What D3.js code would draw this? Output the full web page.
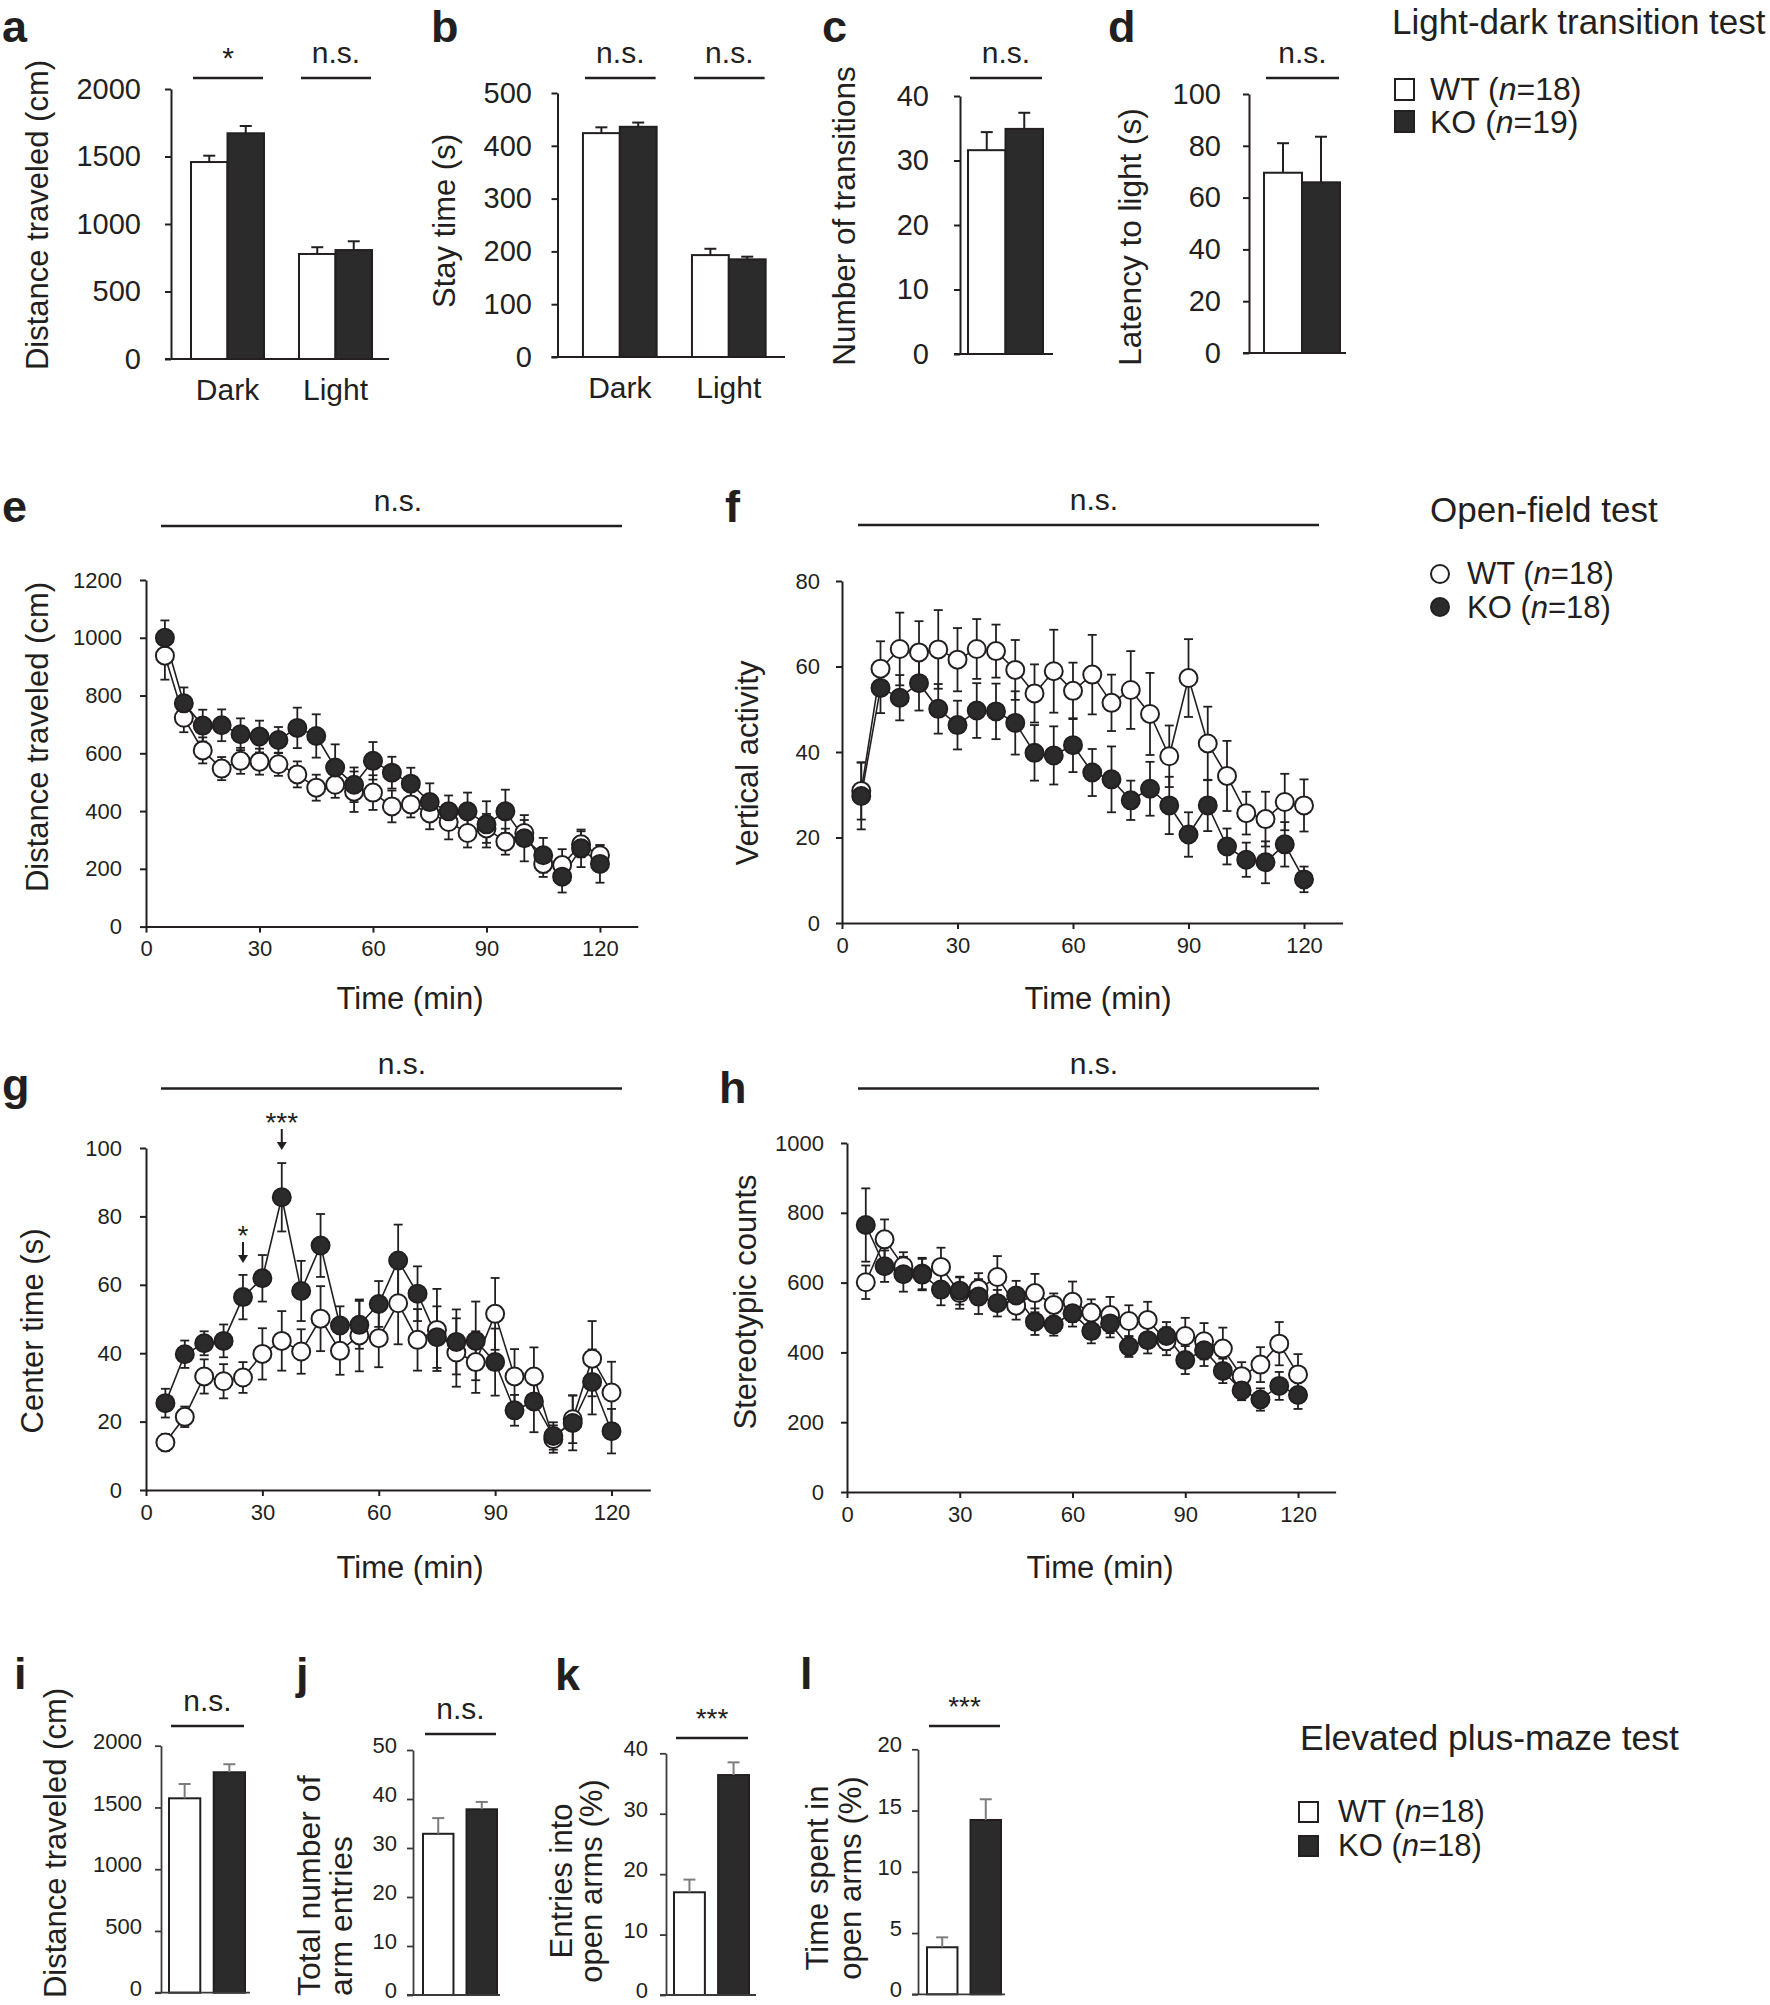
<!DOCTYPE html>
<html><head><meta charset="utf-8">
<script src="https://cdnjs.cloudflare.com/ajax/libs/d3/7.8.5/d3.min.js"></script>
<style>
body{margin:0;background:#fff;}
svg{display:block;}
</style></head><body>
<svg id="fig" width="1770" height="2005"></svg>
<script>
// ================= DATA =================
const groups = ["WT", "KO"];
const times = [5,10,15,20,25,30,35,40,45,50,55,60,65,70,75,80,85,90,95,100,105,110,115,120];
const timeTicks = [0, 30, 60, 90, 120];

// Light-dark transition test (a-d)
const ldPhases = ["Dark", "Light"];
const ldDistWT = [1459, 778],  ldDistWTSem = [47, 50];
const ldDistKO = [1672, 807],  ldDistKOSem = [54, 65];
const ldDistSig = ["*", "n.s."];
const ldDistTicks = [0, 500, 1000, 1500, 2000];
const ldStayWT = [424, 193],   ldStayWTSem = [11, 12];
const ldStayKO = [436, 185],   ldStayKOSem = [8, 5];
const ldStaySig = ["n.s.", "n.s."];
const ldStayTicks = [0, 100, 200, 300, 400, 500];
const ldTransWT = [31.6], ldTransWTSem = [2.8];
const ldTransKO = [34.9], ldTransKOSem = [2.5];
const ldTransSig = ["n.s."];
const ldTransTicks = [0, 10, 20, 30, 40];
const ldLatWT = [69.6], ldLatWTSem = [11.4];
const ldLatKO = [65.9], ldLatKOSem = [17.6];
const ldLatSig = ["n.s."];
const ldLatTicks = [0, 20, 40, 60, 80, 100];
const ldN = [18, 19];

// Open-field test (e-h)
const ofDistWT    = [938,723,610,547,574,571,562,527,481,491,467,464,416,423,392,362,324,340,294,324,217,213,285,247];
const ofDistWTSem = [83,50,45,40,45,45,40,45,45,45,70,60,55,45,55,60,50,50,45,45,45,55,45,35];
const ofDistKO    = [1000,773,696,697,666,658,646,688,660,551,491,574,533,495,431,399,399,354,399,306,247,173,271,217];
const ofDistKOSem = [60,55,55,55,55,55,45,70,75,80,60,65,55,55,65,55,65,80,75,80,60,55,65,65];
const ofDistTicks = [0,200,400,600,800,1000,1200];

const ofVertWT    = [30.9,59.5,64.1,63.3,64.0,61.6,64.1,63.6,59.2,53.7,58.9,54.3,58.1,51.5,54.5,48.9,39.0,57.3,42.0,34.4,25.7,24.3,28.3,27.5];
const ofVertWTSem = [6.7,6.4,8.5,7.3,9.2,7.4,7.0,6.2,7.0,6.8,9.7,6.6,9.3,6.6,9.1,9.6,7.2,9.1,8.6,8.2,5.0,6.4,6.6,6.1];
const ofVertKO    = [29.7,55.0,52.7,56.1,50.1,46.3,49.7,49.5,46.8,39.8,39.2,41.6,35.2,33.6,28.7,31.4,27.5,20.7,27.5,17.9,14.8,14.2,18.4,10.2];
const ofVertKOSem = [7.8,5.9,5.3,6.4,5.8,5.7,6.4,6.5,7.4,6.5,6.8,6.3,5.5,7.7,4.6,6.3,6.7,5.2,6.0,4.2,4.0,4.9,5.2,3.0];
const ofVertTicks = [0,20,40,60,80];

const ofCenterWT    = [13.9,21.4,33.2,31.8,32.9,39.8,43.6,40.5,50.1,40.7,45.2,44.4,54.6,43.9,46.8,40.2,37.4,51.5,33.2,33.2,14.9,20.7,38.4,28.5];
const ofCenterWTSem = [2.5,3,5,5,4.5,7.5,8.7,6.5,9.5,7,10.5,8.5,12,9,12,10,9,10.5,8,8.5,4,7,11,9];
const ofCenterKO    = [25.4,39.7,42.9,43.6,56.4,61.9,85.6,58.2,71.5,48.1,48.3,54.4,67.1,57.4,44.7,43.3,43.6,37.4,23.3,25.9,15.8,19.6,31.6,17.2];
const ofCenterKOSem = [4.2,4,3.5,4.8,6.5,6.8,10,8.8,9.2,5.6,7,6.7,10.5,8,9,9.5,11.5,9.8,4.5,9,4,8,9.5,6.5];
const ofCenterTicks = [0,20,40,60,80,100];
const ofCenterMarks = [{t:25, label:"*"}, {t:35, label:"***"}];

const ofStereoWT    = [601,724,647,626,645,570,582,616,534,570,536,545,514,507,490,493,432,447,432,411,332,365,425,337];
const ofStereoWTSem = [48,57,40,45,55,45,45,60,40,55,33,58,38,52,45,52,40,52,52,60,40,50,62,58];
const ofStereoKO    = [765,647,624,623,580,577,560,541,563,488,480,512,461,483,417,435,447,378,406,347,291,265,304,278];
const ofStereoKOSem = [105,45,50,45,45,40,50,38,42,38,32,38,35,40,30,38,40,40,45,35,28,32,40,40];
const ofStereoTicks = [0,200,400,600,800,1000];
const ofN = [18, 18];

// Elevated plus-maze test (i-l)
const epmDistWT = [1574], epmDistWTSem = [116];
const epmDistKO = [1785], epmDistKOSem = [65];
const epmDistTicks = [0,500,1000,1500,2000];
const epmEntWT = [32.9], epmEntWTSem = [3.2];
const epmEntKO = [37.9], epmEntKOSem = [1.5];
const epmEntTicks = [0,10,20,30,40,50];
const epmOpenEntWT = [17.0], epmOpenEntWTSem = [2.1];
const epmOpenEntKO = [36.4], epmOpenEntKOSem = [2.1];
const epmOpenEntTicks = [0,10,20,30,40];
const epmOpenTimeWT = [3.84], epmOpenTimeWTSem = [0.81];
const epmOpenTimeKO = [14.23], epmOpenTimeKOSem = [1.69];
const epmOpenTimeTicks = [0,5,10,15,20];
const epmSig = ["n.s.", "n.s.", "***", "***"];
const epmN = [18, 18];

// ================= DRAWING =================
const FONT = '"Liberation Sans", Arial, Helvetica, sans-serif';
const C = "#231f20";
const KOFILL = "#2b2b2b";
const fmt = d3.format("d");
const svg = d3.select("#fig").attr("font-family", FONT);

function styleAxis(sel, fs, sw, col) {
  sel.attr("font-family", FONT);
  sel.selectAll("path.domain").attr("stroke", col || C).attr("stroke-width", sw);
  sel.selectAll(".tick line").attr("stroke", col || C).attr("stroke-width", sw);
  sel.selectAll(".tick text").attr("fill", C).attr("font-size", fs);
}

function txt(x, y, s, fs, opts = {}) {
  const t = svg.append("text").attr("x", x).attr("y", y).attr("font-size", fs)
    .attr("fill", C).attr("text-anchor", opts.anchor || "start").text(s);
  if (opts.bold) t.attr("font-weight", "bold");
  return t;
}

function vLabel(lines, xs, yc, fs, anchor) {
  lines.forEach((s, i) => {
    svg.append("text").attr("transform", `translate(${xs[i]},${yc}) rotate(-90)`)
      .attr("text-anchor", anchor || "middle").attr("font-size", fs).attr("fill", C).text(s);
  });
}

function barPanel(p) {
  const g = svg.append("g");
  const y = d3.scaleLinear().domain([0, p.max]).range([p.y0, p.yTop]);
  const outer = d3.scaleBand().domain(p.cats).range(p.range)
    .paddingInner(p.outerIn || 0).paddingOuter(p.outerOut || 0);
  const inner = d3.scaleBand().domain(groups).range([0, outer.bandwidth()]).paddingInner(p.innerPad || 0);
  const bw = inner.bandwidth();
  const rows = [];
  p.cats.forEach((c, i) => {
    rows.push({c, grp: "WT", v: p.wt[i], e: p.wtSem[i]});
    rows.push({c, grp: "KO", v: p.ko[i], e: p.koSem[i]});
  });
  const cx = d => outer(d.c) + inner(d.grp) + bw / 2;
  g.selectAll("rect.bar").data(rows).join("rect").attr("class", "bar")
    .attr("x", d => outer(d.c) + inner(d.grp)).attr("width", bw)
    .attr("y", d => y(d.v)).attr("height", d => p.y0 - y(d.v))
    .attr("fill", d => d.grp === "WT" ? "#fff" : KOFILL)
    .attr("stroke", C).attr("stroke-width", p.barStroke || 2);
  const ec = p.errColor || C;
  g.selectAll("line.ev").data(rows).join("line").attr("class", "ev")
    .attr("x1", cx).attr("x2", cx).attr("y1", d => y(d.v)).attr("y2", d => y(d.v + d.e))
    .attr("stroke", ec).attr("stroke-width", p.errW || 2);
  g.selectAll("line.ec").data(rows).join("line").attr("class", "ec")
    .attr("x1", d => cx(d) - p.cap).attr("x2", d => cx(d) + p.cap)
    .attr("y1", d => y(d.v + d.e)).attr("y2", d => y(d.v + d.e))
    .attr("stroke", ec).attr("stroke-width", p.errW || 2);
  const ya = g.append("g").attr("transform", `translate(${p.ax},0)`)
    .call(d3.axisLeft(y).tickValues(p.ticks).tickFormat(fmt).tickSize(6).tickSizeOuter(0).tickPadding(p.tickPad));
  styleAxis(ya, p.tickFs, p.axisW || 2, p.axisCol);
  if (p.tickDy) ya.selectAll(".tick text").attr("dy", p.tickDy);
  g.append("line").attr("x1", p.ax - 6).attr("x2", p.xEnd).attr("y1", p.y0).attr("y2", p.y0)
    .attr("stroke", p.axisCol || C).attr("stroke-width", p.axisW || 2);
  if (p.showCats) {
    const xa = g.append("g").attr("transform", `translate(0,${p.y0})`)
      .call(d3.axisBottom(outer).tickSize(0).tickPadding(p.catPad));
    xa.select("path.domain").remove();
    styleAxis(xa, p.catFs, 0);
  }
  p.cats.forEach((c, i) => {
    const x1 = outer(c) + 2, x2 = outer(c) + outer.bandwidth() - 1;
    g.append("line").attr("x1", x1).attr("x2", x2).attr("y1", p.sigY).attr("y2", p.sigY)
      .attr("stroke", C).attr("stroke-width", 2.5);
    const s = p.sig[i];
    const isNS = s.indexOf("n") >= 0;
    txt((x1 + x2) / 2, isNS ? p.sigY - 15 : p.sigY - 10, s, isNS ? p.nsFs : p.starFs, {anchor: "middle"});
  });
  return {x: outer, y};
}

function tsPanel(p) {
  const g = svg.append("g");
  const x = d3.scaleLinear().domain([0, 130]).range([p.ax, p.xEnd]);
  const y = d3.scaleLinear().domain([0, p.max]).range([p.y0, p.yTop]);
  const ya = g.append("g").attr("transform", `translate(${p.ax},0)`)
    .call(d3.axisLeft(y).tickValues(p.ticks).tickFormat(fmt).tickSize(6).tickSizeOuter(0).tickPadding(p.tickPad));
  styleAxis(ya, 22, 2);
  const xa = g.append("g").attr("transform", `translate(0,${p.y0})`)
    .call(d3.axisBottom(x).tickValues(timeTicks).tickFormat(fmt).tickSize(6).tickSizeOuter(0).tickPadding(8));
  styleAxis(xa, 22, 2);
  const series = [
    {name: "WT", v: p.wt, e: p.wtSem, fill: "#fff"},
    {name: "KO", v: p.ko, e: p.koSem, fill: KOFILL}
  ];
  const cap = 4.5;
  series.forEach(s => {
    const pts = s.v.map((v, i) => ({t: times[i], v, e: s.e[i]}));
    const eg = g.append("g");
    eg.selectAll("line.v").data(pts).join("line").attr("class", "v")
      .attr("x1", d => x(d.t)).attr("x2", d => x(d.t))
      .attr("y1", d => y(d.v - d.e)).attr("y2", d => y(d.v + d.e))
      .attr("stroke", C).attr("stroke-width", 1.8);
    eg.selectAll("line.t").data(pts).join("line").attr("class", "t")
      .attr("x1", d => x(d.t) - cap).attr("x2", d => x(d.t) + cap)
      .attr("y1", d => y(d.v + d.e)).attr("y2", d => y(d.v + d.e))
      .attr("stroke", C).attr("stroke-width", 1.8);
    eg.selectAll("line.b").data(pts).join("line").attr("class", "b")
      .attr("x1", d => x(d.t) - cap).attr("x2", d => x(d.t) + cap)
      .attr("y1", d => y(d.v - d.e)).attr("y2", d => y(d.v - d.e))
      .attr("stroke", C).attr("stroke-width", 1.8);
  });
  const line = d3.line().x((d, i) => x(times[i])).y(d => y(d));
  series.forEach(s => {
    g.append("path").attr("d", line(s.v)).attr("fill", "none").attr("stroke", C).attr("stroke-width", 1.6);
  });
  series.forEach(s => {
    g.selectAll(null).data(s.v).join("circle")
      .attr("cx", (d, i) => x(times[i])).attr("cy", d => y(d)).attr("r", 9)
      .attr("fill", s.fill).attr("stroke", C).attr("stroke-width", 2);
  });
  txt(p.timeX, p.timeY, "Time (min)", 31, {anchor: "middle"});
  g.append("line").attr("x1", p.sigX1).attr("x2", p.sigX2).attr("y1", p.sigLineY).attr("y2", p.sigLineY)
    .attr("stroke", C).attr("stroke-width", 2.5);
  txt(p.nsX, p.sigLineY - 15, "n.s.", 30, {anchor: "middle"});
  return {x, y};
}

// ---------- Panel letters ----------
const letters = [["a",2,42],["b",431,42],["c",822,42],["d",1108,42],["e",2,522],["f",725,522],
  ["g",2,1100],["h",719,1103],["i",14,1689],["j",296,1689],["k",555,1690],["l",800,1689]];
letters.forEach(l => txt(l[1], l[2], l[0], 45, {bold: true}));

// ---------- a ----------
barPanel({cats: ldPhases, wt: ldDistWT, wtSem: ldDistWTSem, ko: ldDistKO, koSem: ldDistKOSem,
  max: 2000, ticks: ldDistTicks, ax: 171, y0: 359, yTop: 89, tickPad: 24, tickFs: 29,
  range: [173.5, 389.5], outerIn: 0.324, outerOut: 0.162, xEnd: 389,
  showCats: true, catPad: 20, catFs: 30, sig: ldDistSig, sigY: 78, nsFs: 30, starFs: 30, cap: 6});
vLabel(["Distance traveled (cm)"], [48], 215, 31);

// ---------- b ----------
barPanel({cats: ldPhases, wt: ldStayWT, wtSem: ldStayWTSem, ko: ldStayKO, koSem: ldStayKOSem,
  max: 500, ticks: ldStayTicks, ax: 557.5, y0: 357, yTop: 93, tickPad: 19.5, tickFs: 29,
  range: [565.3, 783.3], outerIn: 0.324, outerOut: 0.162, xEnd: 785,
  showCats: true, catPad: 20, catFs: 30, sig: ldStaySig, sigY: 78, nsFs: 30, starFs: 30, cap: 6});
vLabel(["Stay time (s)"], [455], 221, 31);

// ---------- c ----------
barPanel({cats: ["c"], wt: ldTransWT, wtSem: ldTransWTSem, ko: ldTransKO, koSem: ldTransKOSem,
  max: 40, ticks: ldTransTicks, ax: 960, y0: 354, yTop: 96, tickPad: 25, tickFs: 29,
  range: [968, 1043], xEnd: 1053, showCats: false, sig: ldTransSig, sigY: 78, nsFs: 30, starFs: 30, cap: 6});
vLabel(["Number of transitions"], [855], 216, 31.5);

// ---------- d ----------
barPanel({cats: ["d"], wt: ldLatWT, wtSem: ldLatWTSem, ko: ldLatKO, koSem: ldLatKOSem,
  max: 100, ticks: ldLatTicks, ax: 1249, y0: 353, yTop: 94, tickPad: 22, tickFs: 29,
  range: [1264, 1340], xEnd: 1346, showCats: false, sig: ldLatSig, sigY: 78, nsFs: 30, starFs: 30, cap: 6});
vLabel(["Latency to light (s)"], [1141], 237, 31.5);

// ---------- e ----------
tsPanel({wt: ofDistWT, wtSem: ofDistWTSem, ko: ofDistKO, koSem: ofDistKOSem,
  max: 1200, ticks: ofDistTicks, ax: 146, xEnd: 637.8, y0: 926.6, yTop: 580, tickPad: 18,
  timeX: 410, timeY: 1009, sigX1: 161, sigX2: 622, sigLineY: 526, nsX: 398});
vLabel(["Distance traveled (cm)"], [48], 737, 31);

// ---------- f ----------
tsPanel({wt: ofVertWT, wtSem: ofVertWTSem, ko: ofVertKO, koSem: ofVertKOSem,
  max: 80, ticks: ofVertTicks, ax: 842, xEnd: 1342.5, y0: 923, yTop: 581, tickPad: 16,
  timeX: 1098, timeY: 1009, sigX1: 858, sigX2: 1319, sigLineY: 525, nsX: 1094});
vLabel(["Vertical activity"], [758], 763, 31);

// ---------- g ----------
const gp = tsPanel({wt: ofCenterWT, wtSem: ofCenterWTSem, ko: ofCenterKO, koSem: ofCenterKOSem,
  max: 100, ticks: ofCenterTicks, ax: 146, xEnd: 650.3, y0: 1490, yTop: 1148, tickPad: 18,
  timeX: 410, timeY: 1578, sigX1: 161, sigX2: 622, sigLineY: 1088.6, nsX: 402});
vLabel(["Center time (s)"], [43], 1331, 31);
const markTop = {"*": 1245, "***": 1132};
ofCenterMarks.forEach(m => {
  const xx = gp.x(m.t);
  const ys = markTop[m.label];
  txt(xx, ys, m.label, 28, {anchor: "middle"});
  svg.append("line").attr("x1", xx).attr("x2", xx).attr("y1", ys - 3).attr("y2", ys + 12)
    .attr("stroke", C).attr("stroke-width", 2);
  svg.append("path").attr("d", `M${xx - 5},${ys + 10} L${xx + 5},${ys + 10} L${xx},${ys + 18} Z`).attr("fill", C);
});

// ---------- h ----------
tsPanel({wt: ofStereoWT, wtSem: ofStereoWTSem, ko: ofStereoKO, koSem: ofStereoKOSem,
  max: 1000, ticks: ofStereoTicks, ax: 847, xEnd: 1335.6, y0: 1492, yTop: 1143, tickPad: 17,
  timeX: 1100, timeY: 1578, sigX1: 858, sigX2: 1319, sigLineY: 1088.6, nsX: 1094});
vLabel(["Stereotypic counts"], [756], 1302, 31);

// ---------- i-l ----------
const bottomCommon = {showCats: false, tickFs: 22, tickDy: "0.12em", innerPad: 0.3, nsFs: 30, starFs: 28, cap: 6,
  errColor: "#7d7d7d", errW: 2, axisCol: "#3a3a3a", axisW: 1.8, barStroke: 2};
barPanel(Object.assign({cats: ["i"], wt: epmDistWT, wtSem: epmDistWTSem, ko: epmDistKO, koSem: epmDistKOSem,
  max: 2000, ticks: epmDistTicks, ax: 161, y0: 1992.7, yTop: 1745.7, tickPad: 13,
  range: [169, 245], xEnd: 250, sig: [epmSig[0]], sigY: 1726}, bottomCommon));
vLabel(["Distance traveled (cm)"], [66], 1843, 31);

barPanel(Object.assign({cats: ["j"], wt: epmEntWT, wtSem: epmEntWTSem, ko: epmEntKO, koSem: epmEntKOSem,
  max: 50, ticks: epmEntTicks, ax: 413, y0: 1995, yTop: 1750, tickPad: 10,
  range: [423, 497], xEnd: 500, sig: [epmSig[1]], sigY: 1734}, bottomCommon));
vLabel(["Total number of", "arm entries"], [320, 352], 1996, 32, "start");

barPanel(Object.assign({cats: ["k"], wt: epmOpenEntWT, wtSem: epmOpenEntWTSem, ko: epmOpenEntKO, koSem: epmOpenEntKOSem,
  max: 40, ticks: epmOpenEntTicks, ax: 666, y0: 1995, yTop: 1753.3, tickPad: 12,
  range: [674, 749], xEnd: 756, sig: [epmSig[2]], sigY: 1738}, bottomCommon));
vLabel(["Entries into", "open arms (%)"], [572, 602], 1881, 31);

barPanel(Object.assign({cats: ["l"], wt: epmOpenTimeWT, wtSem: epmOpenTimeWTSem, ko: epmOpenTimeKO, koSem: epmOpenTimeKOSem,
  max: 20, ticks: epmOpenTimeTicks, ax: 918, y0: 1994.3, yTop: 1749.3, tickPad: 10,
  range: [927, 1001], xEnd: 1005, sig: [epmSig[3]], sigY: 1726}, bottomCommon));
vLabel(["Time spent in", "open arms (%)"], [828, 861], 1878, 31);

// ---------- Legends ----------
function legendItemText(x, y, name, n, fs) {
  const t = svg.append("text").attr("x", x).attr("y", y).attr("font-size", fs).attr("fill", C);
  t.append("tspan").text(name + " (");
  t.append("tspan").attr("font-style", "italic").text("n");
  t.append("tspan").text("=" + n + ")");
}
// Light-dark
txt(1392, 34, "Light-dark transition test", 35);
groups.forEach((gname, i) => {
  const yy = [79, 111][i];
  svg.append("rect").attr("x", 1395).attr("y", yy).attr("width", 19).attr("height", 21)
    .attr("fill", gname === "WT" ? "#fff" : KOFILL).attr("stroke", C).attr("stroke-width", 2);
  legendItemText(1430, [100, 133][i], gname, ldN[i], 32);
});
// Open field
txt(1430, 522, "Open-field test", 35);
groups.forEach((gname, i) => {
  svg.append("circle").attr("cx", 1440).attr("cy", [574, 607][i]).attr("r", 9)
    .attr("fill", gname === "WT" ? "#fff" : KOFILL).attr("stroke", C).attr("stroke-width", 2);
  legendItemText(1467, [584, 618][i], gname, ofN[i], 31);
});
// EPM
txt(1300, 1750, "Elevated plus-maze test", 35.5);
groups.forEach((gname, i) => {
  svg.append("rect").attr("x", 1299).attr("y", [1802, 1836][i]).attr("width", 19).attr("height", 20)
    .attr("fill", gname === "WT" ? "#fff" : KOFILL).attr("stroke", C).attr("stroke-width", 2);
  legendItemText(1338, [1822, 1856][i], gname, epmN[i], 31);
});
</script>
</body></html>
